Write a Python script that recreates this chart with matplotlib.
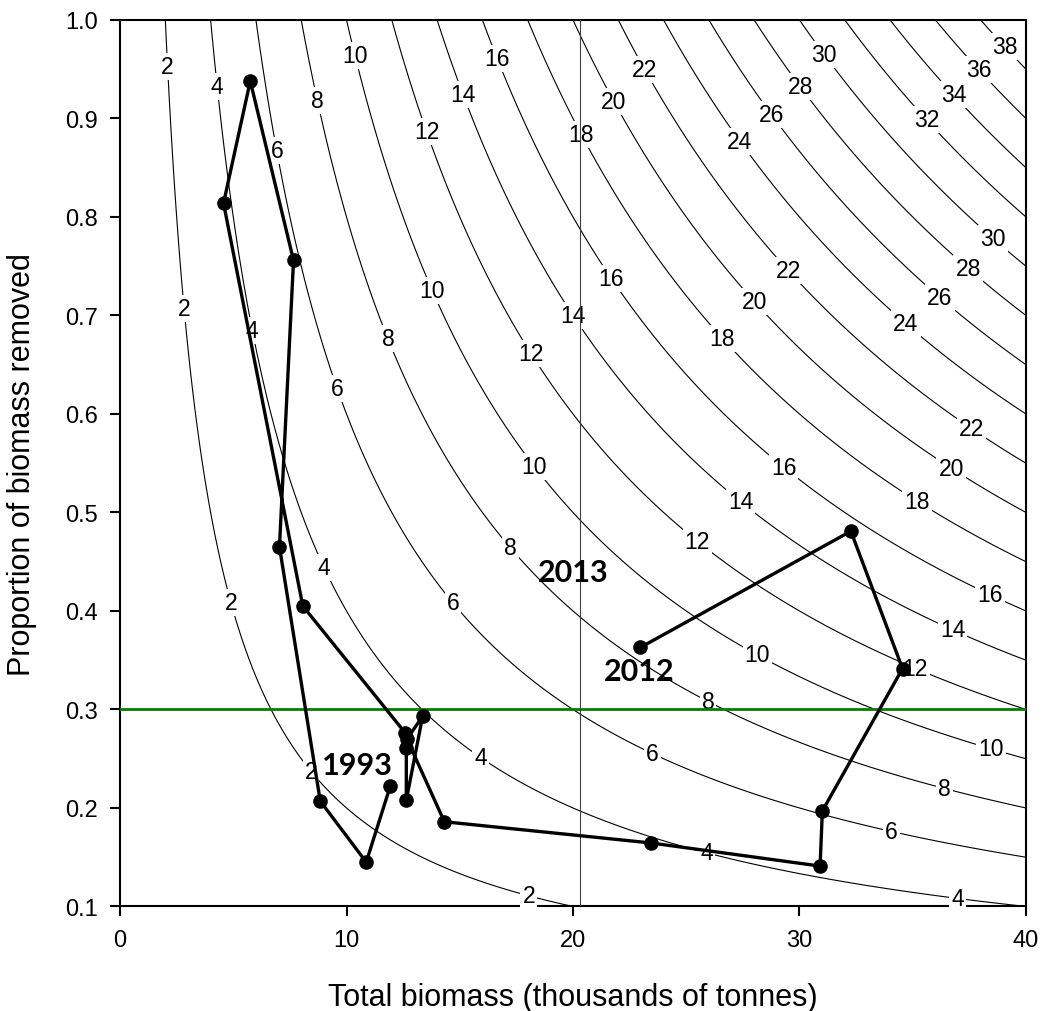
import matplotlib
matplotlib.use("Agg")
import matplotlib.pyplot as plt
import numpy as np

plt.rcParams['font.family'] = ['Liberation Sans', 'DejaVu Sans']

# stock trajectory, 1993 to 2012
years = list(range(1993, 2013))
biomass = [11.93, 10.87, 8.84, 7.04, 7.66, 5.75, 4.57, 8.07, 12.60, 12.64,
           12.64, 13.36, 12.67, 14.32, 23.43, 30.91, 31.01, 34.55, 32.27, 22.98]
removed = [0.222, 0.145, 0.207, 0.465, 0.756, 0.938, 0.814, 0.405, 0.276, 0.261,
           0.208, 0.293, 0.270, 0.186, 0.1645, 0.141, 0.197, 0.3415, 0.481, 0.363]

target_rate = 0.3
biomass_2013 = 20.3

# catch isolines (thousands of tonnes)
catch_levels = list(range(2, 40, 2))

# where each isoline is labelled: (level, biomass along the x axis)
label_spots = [
    (2, 2.10), (4, 4.29), (6, 6.92), (8, 8.71), (10, 10.37), (12, 13.53),
    (14, 15.15), (16, 16.65), (18, 20.36), (20, 21.81), (22, 23.17),
    (24, 27.37), (26, 28.76), (28, 30.03), (30, 31.08), (32, 35.6),
    (34, 36.8), (36, 37.92), (38, 39.05),
    (2, 2.83), (4, 5.84), (6, 9.59), (8, 11.83), (10, 13.79), (12, 18.15),
    (14, 20.0), (16, 21.7), (18, 26.6), (20, 28.0), (22, 29.5), (24, 34.7),
    (26, 36.2), (28, 37.45), (30, 38.55),
    (2, 4.89), (4, 9.0), (6, 14.7), (8, 17.24), (10, 18.3), (12, 25.49),
    (14, 27.4), (16, 29.3), (18, 35.2), (20, 36.7), (22, 37.6),
    (16, 38.42), (14, 36.76), (12, 35.1), (10, 38.45), (8, 36.39),
    (6, 34.06), (4, 36.98),
    (2, 8.43), (4, 15.91), (6, 23.5), (8, 25.96), (10, 28.14), (4, 25.9),
    (2, 18.05),
]

fig = plt.figure(figsize=(10.42, 10.12), dpi=100)
ax = fig.add_axes([0.1152, 0.1033, 0.8694, 0.876])

bx = np.linspace(0.05, 40, 800)
py = np.linspace(0.1, 1.0, 600)
B, P = np.meshgrid(bx, py)
ax.contour(B, P, B * P, levels=catch_levels, colors='black',
           linewidths=0.8, zorder=2)

for lev, xb in label_spots:
    ax.text(xb, lev / xb, str(lev), fontsize=16.5, ha='center', va='center',
            zorder=3, bbox=dict(fc='white', ec='none', pad=1.5))

ax.axhline(target_rate, color='#008000', lw=2.0, zorder=4)
ax.axvline(biomass_2013, color='#404040', lw=0.8, zorder=4)

ax.plot(biomass, removed, color='black', lw=2.4, marker='o', ms=9.5, zorder=5)

bold = dict(fontsize=22, fontweight='bold', family=['Lato', 'DejaVu Sans'],
            ha='center', va='center', zorder=6)
ax.text(10.46, 0.244, '1993', **bold)
ax.text(22.91, 0.339, '2012', **bold)
ax.text(20.01, 0.440, '2013', **bold)

ax.set_xlim(0, 40)
ax.set_ylim(0.1, 1.0)
ax.set_xticks([0, 10, 20, 30, 40])
ax.set_yticks(np.arange(0.1, 1.01, 0.1))
ax.yaxis.set_major_formatter(matplotlib.ticker.FormatStrFormatter('%.1f'))
ax.tick_params(direction='out', length=7, width=1.5, labelsize=17, pad=9)
for s in ax.spines.values():
    s.set_linewidth(1.5)

ax.set_xlabel('Total biomass (thousands of tonnes)', fontsize=22)
ax.set_ylabel('Proportion of biomass removed', fontsize=22)
ax.xaxis.set_label_coords(0.5, -0.085)
ax.yaxis.set_label_coords(-0.092, 0.5)

fig.savefig('out.png', dpi=100)
